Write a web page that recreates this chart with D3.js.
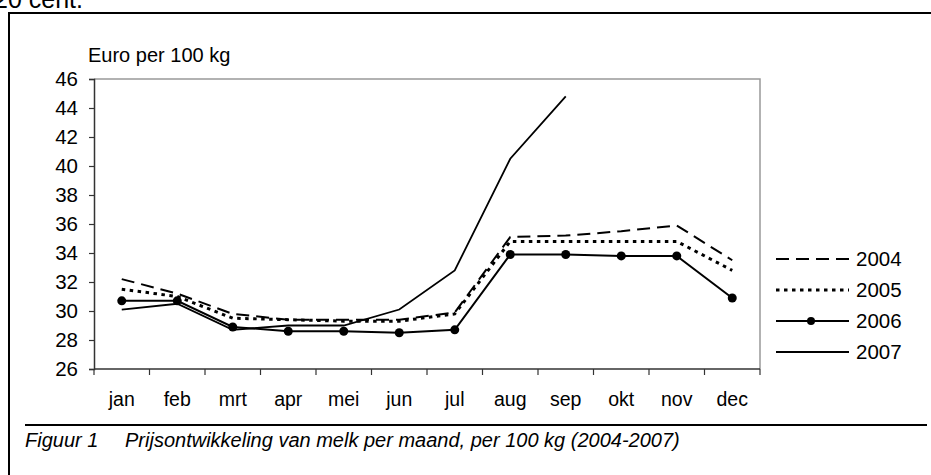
<!DOCTYPE html>
<html>
<head>
<meta charset="utf-8">
<script src="https://cdn.jsdelivr.net/npm/d3@7"></script>
<style>
  body { margin: 0; background: #fff; }
  text { font-family: "Liberation Sans", Arial, sans-serif; fill: #000; }
</style>
</head>
<body>
<svg id="chart"></svg>
<script>
const months = ["jan","feb","mrt","apr","mei","jun","jul","aug","sep","okt","nov","dec"];
const yTicks = [26,28,30,32,34,36,38,40,42,44,46];
const years = ["2004","2005","2006","2007"];

// euro per 100 kg
const v2004 = [32.2, 31.2, 29.8, 29.4, 29.4, 29.4, 29.9, 35.1, 35.2, 35.5, 35.9, 33.5];
const v2005 = [31.5, 31.0, 29.5, 29.4, 29.3, 29.3, 29.8, 34.8, 34.8, 34.8, 34.8, 32.8];
const v2006 = [30.7, 30.7, 28.9, 28.6, 28.6, 28.5, 28.7, 33.9, 33.9, 33.8, 33.8, 30.9];
const v2007 = [30.1, 30.5, 28.7, 29.0, 29.0, 30.1, 32.8, 40.5, 44.8];

const svgWidth = 931, svgHeight = 475;
const margin = {top: 79, left: 94, right: 171, bottom: 106};
const width = svgWidth - margin.left - margin.right,
      height = svgHeight - margin.top - margin.bottom;

const chart = d3.select('#chart')
    .attr("width", svgWidth)
    .attr("height", svgHeight);

// outer frame of the figure
chart.append("line").attr("x1", 9).attr("x2", 931).attr("y1", 13).attr("y2", 13)
    .attr("stroke", "#000").attr("stroke-width", 2);
chart.append("line").attr("x1", 9).attr("x2", 9).attr("y1", 12).attr("y2", 475)
    .attr("stroke", "#000").attr("stroke-width", 2);
chart.append("line").attr("x1", 25).attr("x2", 927).attr("y1", 425).attr("y2", 425)
    .attr("stroke", "#000").attr("stroke-width", 2);

// text above the figure, cut off by the page edge (as in the source)
chart.append("text").attr("x", -6).attr("y", 8).style("font-size", "25px").text("20 cent.");

const inner = chart.append("g")
    .attr("transform", `translate(${margin.left},${margin.top})`);

var xScale = d3.scaleBand().domain(months).range([0, width]);
var yScale = d3.scaleLinear().domain([26, 46]).range([height, 0]);

// plot area border (top / right in gray)
inner.append("path")
    .attr("d", `M0,0H${width}V${height}`)
    .attr("fill", "none").attr("stroke", "#999").attr("stroke-width", 1.5);

// x axis
var xAxis = inner.append("g").attr("transform", `translate(0,${height})`);
xAxis.append("line").attr("x1", 0).attr("x2", width)
    .attr("stroke", "#333").attr("stroke-width", 1.5);
xAxis.selectAll(".xt").data(d3.range(months.length + 1)).enter().append("line")
    .attr("x1", i => i * xScale.step()).attr("x2", i => i * xScale.step())
    .attr("y1", 0).attr("y2", 6)
    .attr("stroke", "#333").attr("stroke-width", 1.2);
xAxis.selectAll(".xl").data(months).enter().append("text")
    .attr("x", d => xScale(d) + xScale.bandwidth() / 2)
    .attr("y", 37)
    .attr("text-anchor", "middle")
    .style("font-size", "19.5px")
    .text(d => d);

// y axis
var yAxis = d3.axisLeft(yScale).tickValues(yTicks).tickSize(5).tickPadding(11);
var yg = inner.append("g").call(yAxis);
yg.select(".domain").attr("stroke", "#333").attr("stroke-width", 1.5);
yg.selectAll(".tick line").attr("stroke", "#333").attr("stroke-width", 1.2);
yg.selectAll(".tick text").style("font-size", "20.5px")
    .style("font-family", "'Liberation Sans', Arial, sans-serif")
    .attr("fill", "#000");

inner.append("text").attr("x", -6).attr("y", -17)
    .style("font-size", "20px").text("Euro per 100 kg");

var valueline = d3.line()
    .x((d, i) => xScale(months[i]) + xScale.bandwidth() / 2)
    .y(d => yScale(d));

const series = [
  {name: "2004", values: v2004, dash: "13,7", w: 2},
  {name: "2005", values: v2005, dash: "3.5,4.5", w: 3},
  {name: "2006", values: v2006, dash: null, w: 2, dots: true},
  {name: "2007", values: v2007, dash: null, w: 1.8}
];

series.forEach(s => {
  inner.append("path")
    .datum(s.values)
    .attr("d", valueline)
    .attr("fill", "none")
    .attr("stroke", "#000")
    .attr("stroke-width", s.w)
    .attr("stroke-dasharray", s.dash);
  if (s.dots) {
    inner.append("g").selectAll("circle").data(s.values).enter().append("circle")
      .attr("cx", (d, i) => xScale(months[i]) + xScale.bandwidth() / 2)
      .attr("cy", d => yScale(d))
      .attr("r", 4.5)
      .attr("fill", "#000");
  }
});

// legend
const legend = chart.append("g").attr("transform", "translate(776,259)");
series.forEach((s, i) => {
  var g = legend.append("g").attr("transform", `translate(0,${i * 31})`);
  g.append("line").attr("x1", 0).attr("x2", 73).attr("y1", 0).attr("y2", 0)
    .attr("stroke", "#000").attr("stroke-width", s.w)
    .attr("stroke-dasharray", s.dash);
  if (s.dots) g.append("circle").attr("cx", 35).attr("cy", 0).attr("r", 4).attr("fill", "#000");
  g.append("text").attr("x", 80).attr("y", 7).style("font-size", "20.5px").text(years[i]);
});

// caption
chart.append("text").attr("x", 25).attr("y", 447)
    .style("font-size", "20px").style("font-style", "italic")
    .text("Figuur 1");
chart.append("text").attr("x", 125).attr("y", 447)
    .style("font-size", "20px").style("font-style", "italic")
    .text("Prijsontwikkeling van melk per maand, per 100 kg (2004-2007)");
</script>
</body>
</html>
